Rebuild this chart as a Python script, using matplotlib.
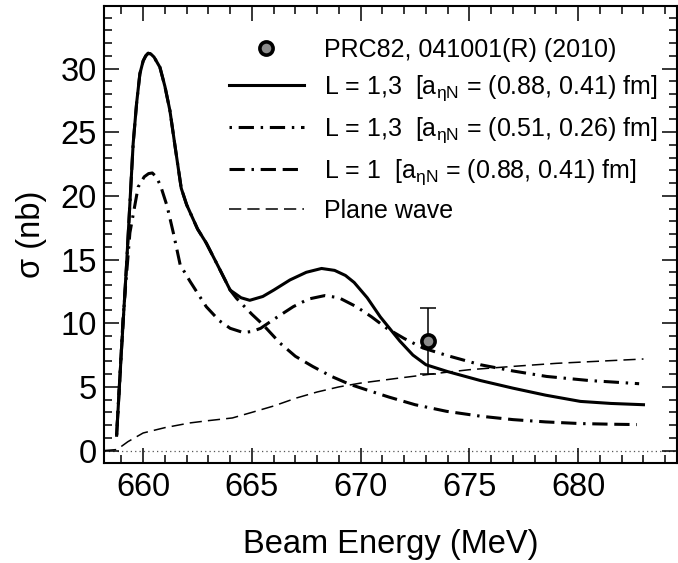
import matplotlib.pyplot as plt
from matplotlib.lines import Line2D
from matplotlib.ticker import MultipleLocator

plt.rcParams['font.family'] = ['Liberation Sans', 'DejaVu Sans']

# L = 1,3  a = (0.88, 0.41) fm  (solid)
e_full = [658.78, 659.0, 659.23, 659.54, 659.7, 659.85, 660.0, 660.12, 660.23, 660.35,
          660.5, 660.77, 661.0, 661.23, 661.5, 661.75, 662.0, 662.5, 662.9, 663.5,
          664.0, 664.5, 664.9, 665.5, 666.0, 666.75, 667.5, 668.2, 668.8, 669.3,
          669.7, 670.3, 670.9, 671.8, 672.4, 673.0, 674.0, 675.5, 677.0, 678.5,
          680.1, 681.5, 683.0]
s_full = [1.2, 7.8, 14.4, 24.1, 27.3, 29.6, 30.6, 31.0, 31.2, 31.15,
          30.9, 30.1, 28.6, 26.7, 23.5, 20.6, 19.3, 17.4, 16.3, 14.3,
          12.6, 12.0, 11.8, 12.1, 12.6, 13.4, 14.0, 14.3, 14.15, 13.75,
          13.2, 12.0, 10.5, 8.6, 7.5, 6.74, 6.2, 5.5, 4.9, 4.35,
          3.86, 3.7, 3.6]

# L = 1,3  a = (0.51, 0.26) fm
e_small = [658.78, 659.08, 659.39, 659.77, 660.05, 660.25, 660.42, 660.6, 660.8, 661.1,
           661.4, 661.7, 662.15, 662.9, 663.5, 664.0, 664.6, 665.0, 665.4, 666.0,
           666.9, 667.6, 668.35, 669.0, 669.8, 670.5, 671.2, 672.0, 672.87, 674.0,
           675.5, 677.0, 678.55, 680.5, 682.8]
s_small = [1.2, 10.5, 17.1, 20.7, 21.5, 21.75, 21.8, 21.5, 20.8, 19.2,
           17.0, 14.6, 13.3, 11.3, 10.2, 9.6, 9.27, 9.35, 9.6, 10.3,
           11.3, 11.9, 12.17, 12.0, 11.3, 10.5, 9.6, 8.8, 8.05, 7.45,
           6.74, 6.25, 5.82, 5.5, 5.25]

# L = 1  a = (0.88, 0.41) fm  (same as solid up to ~664 MeV)
e_l1 = [658.78, 659.0, 659.23, 659.54, 659.7, 659.85, 660.0, 660.12, 660.23, 660.35,
        660.5, 660.77, 661.0, 661.23, 661.5, 661.75, 662.0, 662.5, 662.9, 663.5,
        664.0, 664.29, 665.0, 665.5, 666.29, 667.0, 667.8, 668.66, 669.5, 670.3,
        671.3, 672.5, 673.95, 675.5, 677.0, 678.5, 680.1, 681.5, 682.7]
s_l1 = [1.2, 7.8, 14.4, 24.1, 27.3, 29.6, 30.6, 31.0, 31.2, 31.15,
        30.9, 30.1, 28.6, 26.7, 23.5, 20.6, 19.3, 17.4, 16.3, 14.3,
        12.6, 11.96, 10.7, 9.9, 8.44, 7.4, 6.6, 5.82, 5.2, 4.75,
        4.2, 3.6, 3.08, 2.7, 2.43, 2.25, 2.12, 2.07, 2.04]

# plane wave
e_pw = [658.2, 658.8, 659.3, 660.0, 661.0, 662.15, 663.0, 664.1, 665.0, 666.0,
        667.05, 668.0, 669.0, 670.0, 670.9, 671.8, 673.64, 675.0, 677.0, 679.0,
        681.0, 683.0]
s_pw = [0.0, 0.08, 0.7, 1.38, 1.8, 2.17, 2.35, 2.56, 3.0, 3.5,
        4.13, 4.6, 5.0, 5.3, 5.5, 5.7, 6.09, 6.35, 6.61, 6.85,
        7.02, 7.19]

# measured point PRC82, 041001(R) (2010)
e_data = [673.1]
s_data = [8.6]
s_err = [2.6]

labels = ['PRC82, 041001(R) (2010)',
          r'L = 1,3  [a$_{\mathregular{ηN}}$ = (0.88, 0.41) fm]',
          r'L = 1,3  [a$_{\mathregular{ηN}}$ = (0.51, 0.26) fm]',
          r'L = 1  [a$_{\mathregular{ηN}}$ = (0.88, 0.41) fm]',
          'Plane wave']

fig = plt.figure(figsize=(6.78, 5.63), dpi=100)
ax = fig.add_axes([0.1534, 0.1771, 0.8451, 0.8131])

ls_small = (0, (0.8, 2.2, 5, 2.2))
ls_l1 = (0, (5, 2.2, 0.8, 2.2, 5, 2.2))
ls_pw = (0, (8, 4))

ax.axhline(0, color='#555555', lw=0.9, ls=(0, (1, 2.5)), zorder=1)
ax.plot(e_pw, s_pw, color='black', lw=1.1, ls=ls_pw, zorder=2)
ax.plot(e_l1, s_l1, color='black', lw=2.2, ls=ls_l1, zorder=3)
ax.plot(e_small, s_small, color='black', lw=2.2, ls=ls_small, zorder=3)
ax.plot(e_full, s_full, color='black', lw=2.2, zorder=4)
ax.errorbar(e_data, s_data, yerr=s_err, fmt='none', ecolor='black',
            elinewidth=1.1, capsize=5.5, capthick=1.1, zorder=5)
ax.plot(e_data, s_data, 'o', ms=9.5, mfc='#8c8c8c', mec='black', mew=2.6, zorder=6)

ax.set_xlim(658.2, 684.54)
ax.set_ylim(-1, 34.95)
ax.xaxis.set_major_locator(MultipleLocator(5))
ax.xaxis.set_minor_locator(MultipleLocator(1))
ax.yaxis.set_major_locator(MultipleLocator(5))
ax.yaxis.set_minor_locator(MultipleLocator(1))
ax.tick_params(which='both', direction='in', top=True, right=True,
               width=1.1, labelsize=23.5)
ax.tick_params(which='major', length=11)
ax.tick_params(which='minor', length=5.8)
ax.tick_params(axis='x', pad=6)
ax.tick_params(axis='y', pad=5)
for sp in ax.spines.values():
    sp.set_linewidth(1.5)

ax.set_xlabel('Beam Energy (MeV)', fontsize=23.5, labelpad=19)
ax.set_ylabel('σ (nb)', fontsize=23.5, labelpad=10)

handles = [
    Line2D([], [], ls='none', marker='o', ms=9.5, mfc='#8c8c8c', mec='black', mew=2.6),
    Line2D([], [], color='black', lw=2.2),
    Line2D([], [], color='black', lw=2.2, ls=ls_small),
    Line2D([], [], color='black', lw=2.2, ls=ls_l1),
    Line2D([], [], color='black', lw=1.1, ls=ls_pw),
]
ax.legend(handles, labels, loc='upper left', bbox_to_anchor=(0.218, 0.93),
          frameon=False, fontsize=18, handlelength=3.0, handletextpad=0.8,
          labelspacing=0.48, borderpad=0, borderaxespad=0)

fig.savefig('out.png', dpi=100)
